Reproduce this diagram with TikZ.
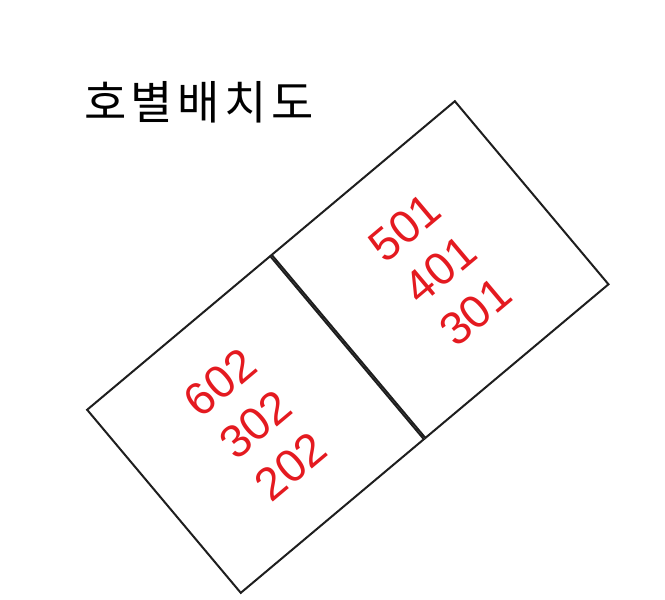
\documentclass[tikz,border=0pt]{standalone}
\usepackage{fontspec}
\setmainfont{Liberation Sans}
\newfontfamily\kofont[LetterSpace=10]{Noto Sans CJK KR}
\usepackage{tikz}
\usetikzlibrary{positioning}
\definecolor{roomred}{RGB}{228, 26, 32}
\definecolor{wallgray}{RGB}{30, 30, 30}

\begin{document}
\begin{tikzpicture}[x=1pt, y=1pt,
        flatbox/.style={draw=wallgray, line width=2pt, text=roomred, rotate=40,
                        minimum size=239pt, inner sep=0pt, align=center,
                        font=\fontsize{46}{55}\selectfont}]
            \useasboundingbox                                   (0,0) rectangle (665,600);
            \node[font=\kofont\fontsize{46}{46}\selectfont]   (title) at (199,498)  {호별배치도};
            \node[flatbox]                                      (west)  at (255.5,175.5) {602\\302\\202};
            \node[flatbox, anchor=west]                         (east)  at (west.east)   {501\\401\\301};
        \end{tikzpicture}
\end{document}
